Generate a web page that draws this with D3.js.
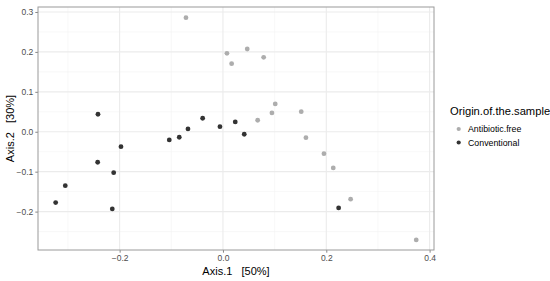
<!DOCTYPE html>
<html><head><meta charset="utf-8">
<script src="https://cdn.jsdelivr.net/npm/d3@7"></script>
<style>body{margin:0;background:#fff}svg{display:block;font-family:"Liberation Sans",Arial,sans-serif}text{white-space:pre}</style>
</head><body><svg id="c" width="550" height="281"></svg>
<script>
const groups = ["Antibiotic.free", "Conventional"];
const abfX = [-0.0716, 0.0077, 0.0168, 0.047, 0.0788, 0.0672, 0.0948, 0.1012, 0.1515, 0.1606, 0.1955, 0.2135, 0.2471, 0.3741];
const abfY = [0.2857, 0.1965, 0.1705, 0.2073, 0.1865, 0.0288, 0.0471, 0.0696, 0.0503, -0.0148, -0.0548, -0.0906, -0.169, -0.2709];
const conX = [-0.2419, -0.1039, -0.0846, -0.0677, -0.0393, -0.0058, 0.0238, 0.0412, -0.1974, -0.2425, -0.2115, -0.3052, -0.3238, -0.2142, 0.2239];
const conY = [0.0438, -0.0205, -0.0138, 0.007, 0.0338, 0.0128, 0.0245, -0.0063, -0.0373, -0.0764, -0.1024, -0.135, -0.1775, -0.1933, -0.1908];
const xTicks = [-0.2, 0.0, 0.2, 0.4];
const yTicks = [-0.2, -0.1, 0.0, 0.1, 0.2, 0.3];
const xMinor = [-0.3, -0.1, 0.1, 0.3];
const yMinor = [-0.25, -0.15, -0.05, 0.05, 0.15, 0.25];
const colors = ["#adadad", "#333333"];

const svg = d3.select("#c");
const L = 38, R = 434, T = 7, B = 250;
const x = d3.scaleLinear().domain([-0.358, 0.4085]).range([L, R]);
const y = d3.scaleLinear().domain([-0.2962, 0.3125]).range([B, T]);

const g = svg.append("g");
g.selectAll(".xm").data(xMinor).join("line").attr("x1", d => x(d)).attr("x2", d => x(d)).attr("y1", T).attr("y2", B).attr("stroke", "#f2f2f2").attr("stroke-width", 0.55);
g.selectAll(".ym").data(yMinor).join("line").attr("y1", d => y(d)).attr("y2", d => y(d)).attr("x1", L).attr("x2", R).attr("stroke", "#f2f2f2").attr("stroke-width", 0.55);
g.selectAll(".xM").data(xTicks).join("line").attr("x1", d => x(d)).attr("x2", d => x(d)).attr("y1", T).attr("y2", B).attr("stroke", "#ebebeb").attr("stroke-width", 1.1);
g.selectAll(".yM").data(yTicks).join("line").attr("y1", d => y(d)).attr("y2", d => y(d)).attr("x1", L).attr("x2", R).attr("stroke", "#ebebeb").attr("stroke-width", 1.1);

const fmt = d3.format(".1f");
const xa = svg.append("g").attr("transform", `translate(0,${B})`).call(d3.axisBottom(x).tickValues(xTicks).tickSize(2.7).tickPadding(2).tickFormat(fmt));
const ya = svg.append("g").attr("transform", `translate(${L},0)`).call(d3.axisLeft(y).tickValues(yTicks).tickSize(2.7).tickPadding(2).tickFormat(fmt));
[xa, ya].forEach(a => {
  a.select(".domain").remove();
  a.selectAll(".tick line").attr("stroke", "#333").attr("stroke-width", 0.6);
  a.selectAll(".tick text").attr("fill", "#4d4d4d").attr("font-size", "8.5px").attr("font-family", "Liberation Sans, Arial, sans-serif");
});

svg.append("rect").attr("x", L).attr("y", T).attr("width", R - L).attr("height", B - T).attr("fill", "none").attr("stroke", "#9a9a9a").attr("stroke-width", 1);

const pts = [];
abfX.forEach((v, i) => pts.push({x: v, y: abfY[i], g: 0}));
conX.forEach((v, i) => pts.push({x: v, y: conY[i], g: 1}));
svg.append("g").selectAll("circle").data(pts).join("circle")
  .attr("cx", d => x(d.x)).attr("cy", d => y(d.y)).attr("r", 2.4).attr("fill", d => colors[d.g]);

svg.append("text").attr("x", (L + R) / 2).attr("y", 275).attr("text-anchor", "middle").attr("font-size", "11px").attr("fill", "#000").text("Axis.1   [50%]");
svg.append("text").attr("transform", `translate(14,${(T + B) / 2}) rotate(-90)`).attr("text-anchor", "middle").attr("font-size", "11px").attr("fill", "#000").text("Axis.2   [30%]");

const lg = svg.append("g");
lg.append("text").attr("x", 450).attr("y", 114.5).attr("font-size", "11.2px").attr("fill", "#000").text("Origin.of.the.sample");
groups.forEach((k, i) => {
  const cy = 129 + i * 13.5;
  lg.append("circle").attr("cx", 458.7).attr("cy", cy).attr("r", 2.1).attr("fill", colors[i]);
  lg.append("text").attr("x", 468).attr("y", cy + 3).attr("font-size", "8.8px").attr("fill", "#000").text(k);
});
</script></body></html>
